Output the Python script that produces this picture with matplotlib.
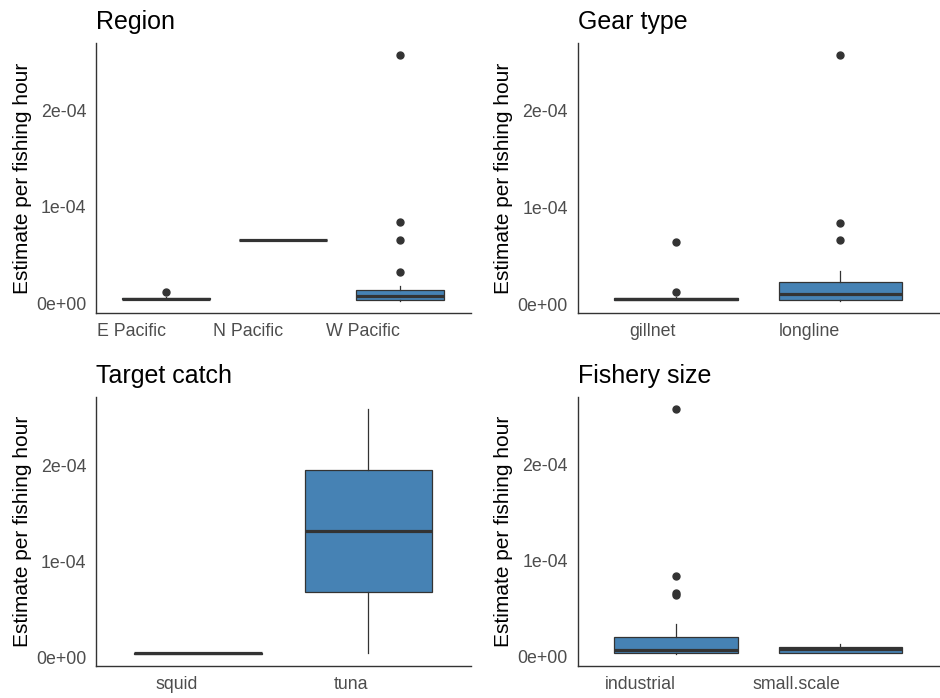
import numpy as np
import matplotlib
matplotlib.use("Agg")
import matplotlib.pyplot as plt

plt.rcParams["font.family"] = ["Liberation Sans", "DejaVu Sans"]

# ----------------------------
# DATA (estimates per fishing hour)
# ----------------------------
region_labels = ["E Pacific", "N Pacific", "W Pacific"]
e_pacific = [4.3e-6, 4.5e-6, 4.6e-6, 4.7e-6, 6.5e-6, 1.2e-5]
n_pacific = [6.6e-5]
w_pacific = [3.0e-6, 3.1e-6, 3.2e-6, 3.3e-6, 3.4e-6, 3.5e-6, 4.5e-6, 5.5e-6,
             6.5e-6, 7.2e-6, 8.0e-6, 9.0e-6, 1.0e-5, 1.15e-5, 1.3e-5, 1.4e-5,
             1.8e-5, 3.3e-5, 6.6e-5, 8.4e-5, 2.57e-4]

gear_labels = ["gillnet", "longline"]
gillnet = [4.2e-6, 4.4e-6, 4.5e-6, 4.6e-6, 4.7e-6, 4.8e-6, 5.0e-6, 5.2e-6,
           7.0e-6, 1.2e-5, 6.4e-5]
longline = [3.5e-6, 3.8e-6, 4.0e-6, 4.2e-6, 4.4e-6, 4.5e-6, 5.5e-6, 6.5e-6,
            8.0e-6, 9.0e-6, 1.04e-5, 1.2e-5, 1.4e-5, 1.7e-5, 2.0e-5, 2.25e-5,
            2.6e-5, 3.37e-5, 6.6e-5, 8.4e-5, 2.57e-4]

target_labels = ["squid", "tuna"]
squid = [3.8e-6, 4.0e-6, 4.2e-6, 4.2e-6, 4.4e-6]
tuna = [4.5e-6, 2.58e-4]

size_labels = ["industrial", "small.scale"]
industrial = [2.5e-6, 2.6e-6, 2.7e-6, 2.8e-6, 3.0e-6, 3.1e-6, 3.5e-6, 4.5e-6,
              5.5e-6, 6.2e-6, 6.7e-6, 8.5e-6, 1.1e-5, 1.4e-5, 1.7e-5, 2.05e-5,
              3.4e-5, 6.4e-5, 6.6e-5, 8.4e-5, 2.575e-4]
small_scale = [2.9e-6, 3.0e-6, 3.1e-6, 4.5e-6, 7.3e-6, 8.0e-6, 9.4e-6,
               1.1e-5, 1.3e-5]

panels = [
    ("Region", region_labels, [e_pacific, n_pacific, w_pacific]),
    ("Gear type", gear_labels, [gillnet, longline]),
    ("Target catch", target_labels, [squid, tuna]),
    ("Fishery size", size_labels, [industrial, small_scale]),
]

# ----------------------------
# PLOTTING
# ----------------------------
W, H = 940, 698
fig = plt.figure(figsize=(W / 100, H / 100), dpi=100)

# axes boxes in pixels: left, top, right, bottom
boxes = [
    (96, 43, 470.5, 313),
    (577.5, 43, 939, 313),
    (96, 397, 470.5, 666),
    (577.5, 397, 939, 666),
]

line_col = "#333333"
fill_col = "#4682B4"
text_col = "#4D4D4D"

for (title, labels, groups), (l, t, r, b) in zip(panels, boxes):
    ax = fig.add_axes([l / W, 1 - b / H, (r - l) / W, (b - t) / H])
    pos = np.arange(1, len(groups) + 1)
    ax.boxplot(
        groups, positions=pos, widths=0.75, patch_artist=True,
        boxprops=dict(facecolor=fill_col, edgecolor=line_col, linewidth=0.9),
        medianprops=dict(color=line_col, linewidth=2.3, solid_capstyle="butt"),
        whiskerprops=dict(color=line_col, linewidth=0.9),
        capprops=dict(linewidth=0),
        flierprops=dict(marker="o", markerfacecolor=line_col,
                        markeredgecolor=line_col, markersize=5),
    )
    ax.set_xlim(0.4, len(groups) + 0.6)
    ax.set_xticks(pos)
    ax.set_xticklabels(labels, ha="right")
    ax.set_yticks([0, 1e-4, 2e-4])
    ax.set_yticklabels(["0e+00", "1e-04", "2e-04"])
    ax.tick_params(length=0, labelsize=12.8, labelcolor=text_col)
    ax.tick_params(axis="y", pad=7)
    ax.tick_params(axis="x", pad=7.5)
    ax.set_ylabel("Estimate per fishing hour", fontsize=15, labelpad=3)
    ax.set_title(title, loc="left", fontsize=18, pad=10)
    for side in ["top", "right"]:
        ax.spines[side].set_visible(False)
    for side in ["left", "bottom"]:
        ax.spines[side].set_color(line_col)
        ax.spines[side].set_linewidth(1.0)

plt.savefig("out.png", dpi=100)
